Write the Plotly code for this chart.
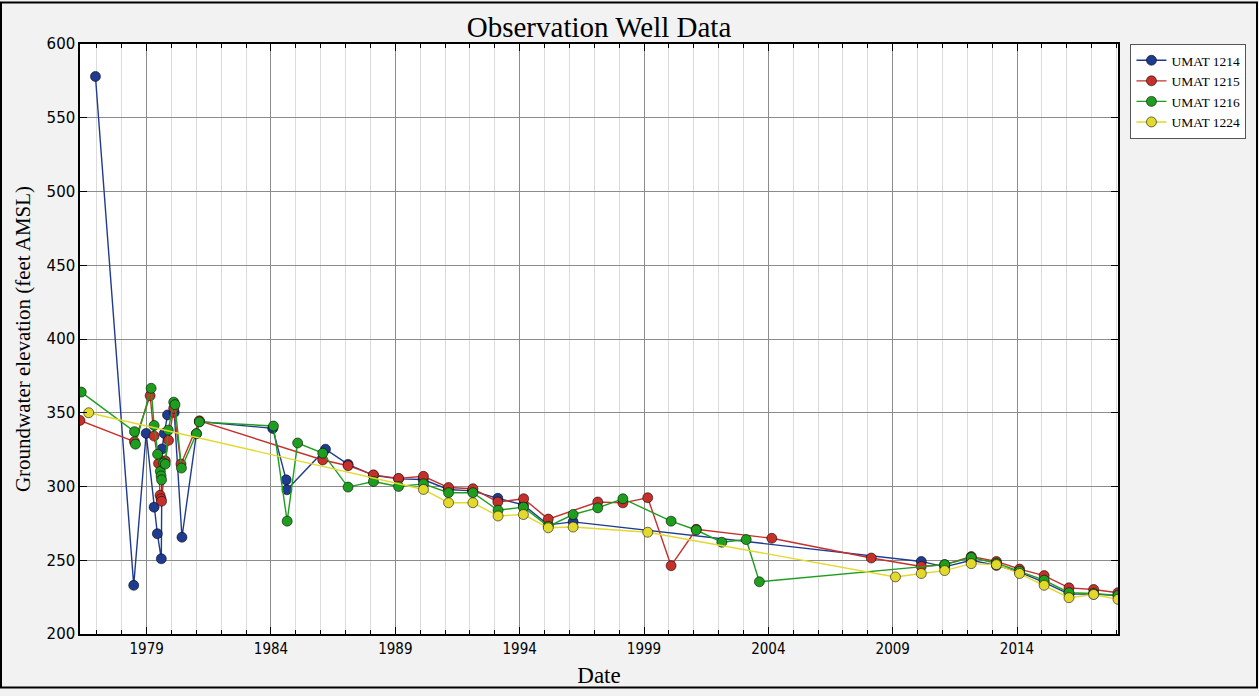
import datetime as dt
import plotly.graph_objects as go

# ---- data (decimal years, feet AMSL) ----
umat1214_t = [1976.94, 1978.48, 1978.98, 1979.30, 1979.43, 1979.59, 1979.62, 1979.71, 1979.84,
              1980.11, 1980.42, 1981.00, 1981.12, 1984.07, 1984.61, 1984.64, 1986.19, 1987.10,
              1988.12, 1989.13, 1990.12, 1991.13, 1992.10, 1993.12, 1994.15, 1995.15, 1996.15,
              2010.15, 2011.09, 2012.16, 2013.17, 2014.10, 2015.09, 2016.09, 2017.08, 2018.06]
umat1214_v = [578, 233, 336, 286, 268, 251, 325.5, 336, 348.5,
              350.2, 265.6, 335.8, 344, 339.4, 304.5, 297.8, 325.3, 315,
              307.5, 305.2, 304.7, 298, 297, 292, 287.5, 274, 276,
              249.2, 245.5, 250, 246.5, 242, 235, 227, 227, 226]

umat1215_t = [1976.32, 1978.51, 1979.14, 1979.30, 1979.48, 1979.54, 1979.58, 1979.60, 1979.75,
              1979.88, 1980.09, 1980.38, 1981.12, 1986.08, 1987.10, 1988.12, 1989.13, 1990.13,
              1991.14, 1992.12, 1993.12, 1994.16, 1995.15, 1997.14, 1998.15, 1999.15, 2000.09,
              2001.10, 2004.14, 2008.14, 2010.15, 2011.09, 2012.16, 2013.17, 2014.10, 2015.09,
              2016.09, 2017.08, 2018.06]
umat1215_v = [344.8, 330.4, 361.5, 334.2, 315.6, 294, 291.7, 290, 317.4,
              331.3, 353, 315.2, 344.5, 318, 314.1, 307.9, 305.5, 306.9,
              299.3, 298.5, 289.5, 291.7, 277.9, 289.5, 288.9, 292.4, 246.3,
              271, 264.9, 251.5, 245.8, 247, 252.5, 249.2, 244, 239.6,
              231.3, 230.2, 228]

umat1216_t = [1976.37, 1978.51, 1978.55, 1979.18, 1979.30, 1979.44, 1979.55, 1979.58, 1979.60,
              1979.68, 1979.75, 1979.87, 1980.09, 1980.14, 1980.40, 1981.00, 1981.12, 1984.10,
              1984.65, 1985.07, 1986.08, 1987.10, 1988.12, 1989.13, 1990.13, 1991.14, 1992.12,
              1993.13, 1994.15, 1995.15, 1996.15, 1997.14, 1998.15, 2000.09, 2001.10, 2002.13,
              2003.11, 2003.64, 2011.09, 2012.16, 2013.17, 2014.10, 2015.09, 2016.09, 2017.08,
              2018.06]
umat1216_v = [364, 337.2, 328.7, 366.6, 341.4, 321.9, 310.3, 307.2, 304.5,
              315.9, 315.2, 338.2, 357.2, 355.5, 312.5, 335.8, 343.8, 341,
              276.5, 329.5, 322.6, 299.6, 303.4, 300, 301.8, 295.8, 295.8,
              283.9, 286, 273, 281, 285.5, 291.7, 276.5, 270.5, 262.2,
              264, 235.4, 247, 251.9, 248, 242.5, 236.5, 228, 227.5,
              226.2]

umat1224_t = [1976.67, 1990.13, 1991.14, 1992.12, 1993.13, 1994.15, 1995.15, 1996.15, 1999.15,
              2009.11, 2010.15, 2011.09, 2012.16, 2013.17, 2014.10, 2015.09, 2016.09, 2017.08,
              2018.06]
umat1224_v = [350, 298, 289, 289, 280, 281, 272, 272.5, 269,
              238.7, 241, 243, 247.7, 247, 241, 233, 224.6, 226.8,
              223.5]

series_names = ["UMAT 1214", "UMAT 1215", "UMAT 1216", "UMAT 1224"]
series_colors = ["#1f3b8f", "#c5302b", "#1e9e1e", "#e2d92c"]
x_tick_years = [1979, 1984, 1989, 1994, 1999, 2004, 2009, 2014]
y_ticks = [200, 250, 300, 350, 400, 450, 500, 550, 600]


def to_date(y):
    year = int(y)
    start = dt.datetime(year, 1, 1)
    end = dt.datetime(year + 1, 1, 1)
    return start + (end - start) * (y - year)


all_t = [umat1214_t, umat1215_t, umat1216_t, umat1224_t]
all_v = [umat1214_v, umat1215_v, umat1216_v, umat1224_v]

fig = go.Figure()
for name, color, t, v in zip(series_names, series_colors, all_t, all_v):
    fig.add_trace(go.Scatter(
        x=[to_date(y) for y in t], y=v, name=name, mode="lines+markers",
        line=dict(color=color, width=1.4),
        marker=dict(size=10, color=color, line=dict(color="rgba(0,0,0,0.55)", width=1)),
    ))

tmin = min(min(t) for t in all_t)
tmax = max(max(t) for t in all_t)

W, H = 1259, 696
ml, mr, mt, mb = 80, 141, 44, 56
pw, ph = W - ml - mr, H - mt - mb

fig.update_layout(
    width=W, height=H,
    margin=dict(l=ml, r=mr, t=mt, b=mb, pad=0),
    paper_bgcolor="#f2f2f2", plot_bgcolor="white",
    title=dict(text="Observation Well Data", x=(ml + pw / 2) / W, xanchor="center",
               y=1 - 27 / H, yanchor="middle",
               font=dict(family="Liberation Serif", size=29, color="black")),
    showlegend=True,
    legend=dict(x=1.012, y=1.0, xanchor="left", yanchor="top",
                bgcolor="white", bordercolor="#555", borderwidth=1,
                font=dict(family="Liberation Serif", size=13.5, color="black"),
                tracegroupgap=0, itemwidth=30),
    font=dict(family="DejaVu Sans", color="black"),
)

fig.update_xaxes(
    range=[to_date(tmin), to_date(tmax)],
    tickmode="array",
    tickvals=[dt.datetime(y, 1, 1) for y in x_tick_years],
    ticktext=[str(y) for y in x_tick_years],
    tickfont=dict(family="DejaVu Sans Condensed", size=15, color="black"),
    showgrid=True, gridcolor="#8c8c8c", gridwidth=1,
    ticks="inside", ticklen=7, tickcolor="black", mirror="ticks",
    showline=True, linecolor="black", linewidth=1.5,
    zeroline=False,
    minor=dict(dtick="M12", tick0="1979-01-01", showgrid=True, gridcolor="#dcdcdc",
               gridwidth=1, ticks="inside", ticklen=4, tickcolor="black"),
    title=dict(text="Date", font=dict(family="Liberation Serif", size=23, color="black"),
               standoff=10),
)
fig.update_yaxes(
    range=[200, 600],
    tickmode="array", tickvals=y_ticks,
    tickfont=dict(family="DejaVu Sans", size=15, color="black"),
    showgrid=True, gridcolor="#8c8c8c", gridwidth=1,
    ticks="inside", ticklen=7, tickcolor="black", mirror="ticks",
    showline=True, linecolor="black", linewidth=1.5,
    zeroline=False,
    title=dict(text="Groundwater elevation (feet AMSL)",
               font=dict(family="Liberation Serif", size=21, color="black"), standoff=10),
)

# outer figure border
fig.add_shape(type="rect", xref="paper", yref="paper",
              x0=-(ml - 1) / pw, x1=1 + (mr - 2) / pw,
              y0=-(mb - 2) / ph, y1=1 + (mt - 2) / ph,
              line=dict(color="black", width=2), fillcolor="rgba(0,0,0,0)", layer="below")

fig.write_html("out.html", config={"displayModeBar": False},
               post_script="document.body.style.margin='0';document.body.style.overflow='hidden';")
